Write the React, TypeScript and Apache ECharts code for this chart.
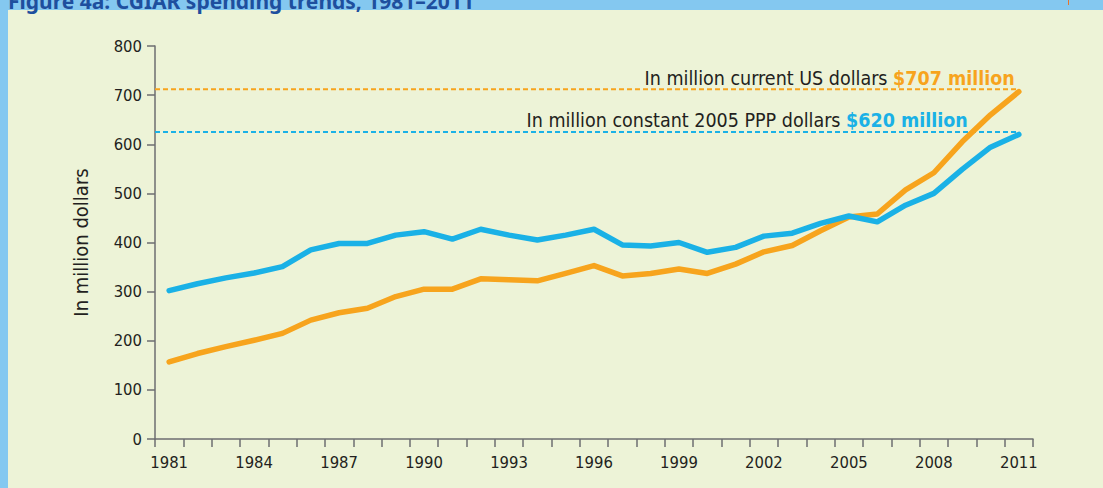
import React, { useEffect, useRef } from "react";
import * as echarts from "echarts";

const years = [
  "1981", "1982", "1983", "1984", "1985", "1986", "1987", "1988", "1989", "1990",
  "1991", "1992", "1993", "1994", "1995", "1996", "1997", "1998", "1999", "2000",
  "2001", "2002", "2003", "2004", "2005", "2006", "2007", "2008", "2009", "2010", "2011",
];

// In million constant 2005 PPP dollars (blue)
const constantPPP = [
  302, 316, 328, 338, 351, 385, 398, 398, 415, 422,
  407, 427, 415, 405, 415, 427, 395, 393, 400, 380,
  390, 413, 419, 439, 454, 442, 476, 500, 549, 594, 620,
];

// In million current US dollars (orange)
const currentUSD = [
  157, 174, 188, 201, 215, 242, 257, 266, 290, 305,
  305, 326, 324, 322, 337, 353, 332, 337, 346, 337,
  356, 381, 394, 424, 452, 458, 507, 542, 605, 660, 707,
];

const refLevels = { current: 712, constant: 625 };
const labelTexts = {
  current: ["In million current US dollars ", "$707 million"],
  constant: ["In million constant 2005 PPP dollars ", "$620 million"],
};

const yAxisName = "In million dollars";
const titleText = "Figure 4a: CGIAR spending trends, 1981–2011";

const ORANGE = "#f7a41d";
const BLUE = "#1ab1e6";
const BG = "#edf3d7";
const HEADER = "#84c8f0";
const TEXT = "#231f20";
const AXIS = "#6d6e71";
const NARROW = "'Liberation Sans Narrow', 'DejaVu Sans Condensed', sans-serif";

export default function App() {
  const ref = useRef<HTMLDivElement>(null);

  useEffect(() => {
    if (!ref.current) return;
    const chart = echarts.init(ref.current, undefined, { renderer: "svg" });
    const lastIdx = years.length - 1;

    const baseGraphic: any[] = [
      { type: "rect", id: "hdr", left: 0, top: 0, shape: { width: 1103, height: 10 }, style: { fill: HEADER }, z: 10 },
      { type: "rect", id: "side", left: 0, top: 0, shape: { width: 8, height: 488 }, style: { fill: HEADER }, z: 10 },
      {
        type: "text",
        id: "title",
        x: 8,
        y: -10,
        style: {
          text: titleText,
          fontFamily: "'Noto Sans', sans-serif",
          fontWeight: "bold",
          fontSize: 21,
          fill: "#1e4f9e",
        },
        z: 11,
      },
      { type: "line", id: "tickmark", shape: { x1: 1068.5, y1: 0, x2: 1068.5, y2: 5 }, style: { stroke: "#e8742a", lineWidth: 1 }, z: 11 },
    ];

    chart.setOption({
      animation: false,
      backgroundColor: BG,
      graphic: baseGraphic,
      grid: { left: 155, right: 70, top: 46, bottom: 49, containLabel: false },
      xAxis: {
        type: "category",
        data: years,
        boundaryGap: true,
        axisLine: { lineStyle: { color: AXIS, width: 1.5 } },
        axisTick: { show: true, interval: 0, length: 8, lineStyle: { color: AXIS, width: 1.5 } },
        axisLabel: {
          interval: 2,
          margin: 15,
          fontFamily: NARROW,
          fontSize: 16.5,
          color: TEXT,
        },
        splitLine: { show: false },
      },
      yAxis: {
        type: "value",
        min: 0,
        max: 800,
        interval: 100,
        name: yAxisName,
        nameLocation: "middle",
        nameRotate: 90,
        nameGap: 64,
        nameTextStyle: { fontFamily: NARROW, fontSize: 20, color: TEXT },
        axisLine: { show: true, lineStyle: { color: AXIS, width: 1.5 } },
        axisTick: { show: true, length: 8, lineStyle: { color: AXIS, width: 1.5 } },
        axisLabel: { margin: 13, fontFamily: NARROW, fontSize: 16.5, color: TEXT },
        splitLine: { show: false },
      },
      series: [
        {
          name: "In million constant 2005 PPP dollars",
          type: "line",
          data: constantPPP,
          symbol: "none",
          lineStyle: { color: BLUE, width: 5.5, cap: "round", join: "round" },
          itemStyle: { color: BLUE },
          z: 3,
        },
        {
          name: "In million current US dollars",
          type: "line",
          data: currentUSD,
          symbol: "none",
          lineStyle: { color: ORANGE, width: 5.5, cap: "round", join: "round" },
          itemStyle: { color: ORANGE },
          z: 2,
        },
      ],
    });

    // Reference lines and their labels, placed through the chart's own scales
    const p0 = chart.convertToPixel({ xAxisIndex: 0 }, 0) as number;
    const p1 = chart.convertToPixel({ xAxisIndex: 0 }, 1) as number;
    const xStart = p0 - (p1 - p0) / 2;
    const xEnd = chart.convertToPixel({ xAxisIndex: 0 }, lastIdx) as number;
    const yCur = chart.convertToPixel({ yAxisIndex: 0 }, refLevels.current) as number;
    const yCon = chart.convertToPixel({ yAxisIndex: 0 }, refLevels.constant) as number;

    const refLine = (id: string, y: number, color: string) => ({
      type: "line",
      id,
      shape: { x1: xStart, y1: y, x2: xEnd, y2: y },
      style: { stroke: color, lineWidth: 2, lineDash: [5, 3] },
      z: 1,
      silent: true,
    });
    const refLabel = (id: string, y: number, xRight: number, color: string, texts: string[]) => ({
      type: "text",
      id,
      x: xRight,
      y: y - 1,
      style: {
        text: `{a|${texts[0]}}{b|${texts[1]}}`,
        align: "right",
        verticalAlign: "bottom",
        rich: {
          a: { fontFamily: NARROW, fontSize: 19.5, fill: TEXT, color: TEXT },
          b: { fontFamily: NARROW, fontSize: 19.5, fill: color, color, fontWeight: "bold" },
        },
      },
      z: 4,
      silent: true,
    });

    chart.setOption({
      graphic: [
        ...baseGraphic,
        refLine("lineCur", yCur, ORANGE),
        refLine("lineCon", yCon, BLUE),
        refLabel("labCur", yCur, xEnd - 4, ORANGE, labelTexts.current),
        refLabel("labCon", yCon, xEnd - 51, BLUE, labelTexts.constant),
      ],
    });

    return () => chart.dispose();
  }, []);

  return (
    <div
      ref={ref}
      style={{ position: "fixed", left: 0, top: 0, width: 1103, height: 488 }}
    />
  );
}
